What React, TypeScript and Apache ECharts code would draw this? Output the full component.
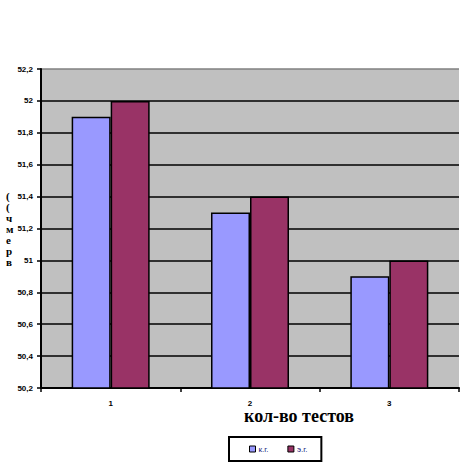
import React, { useEffect, useRef } from "react";
import * as echarts from "echarts";

const categories = ["1", "2", "3"];
const kgValues = [51.9, 51.3, 50.9];
const egValues = [52.0, 51.4, 51.0];
const seriesNames = ["к.г.", "э.г."];
const xTitle = "кол-во тестов";
const yTitleChars = ["(", "(", "ч", "м", "е", "р", "в"];

export default function App() {
  const ref = useRef<HTMLDivElement>(null);
  useEffect(() => {
    const chart = echarts.init(ref.current!, null, { renderer: "svg" });
    const gridColors: string[] = [];
    for (let i = 0; i < 10; i++) gridColors.push("#000");
    gridColors.push("#808080");
    chart.setOption({
      animation: false,
      backgroundColor: "#fff",
      grid: {
        left: 41,
        right: 10,
        top: 69,
        bottom: 81,
        show: true,
        backgroundColor: "#c0c0c0",
        borderColor: "#808080",
        borderWidth: 0,
      },
      legend: {
        left: 229,
        top: 437,
        orient: "horizontal",
        padding: [8, 14, 8, 20],
        itemGap: 19,
        itemWidth: 6,
        itemHeight: 6,
        borderColor: "#000",
        borderWidth: 2,
        icon: "rect",
        textStyle: { fontSize: 8, color: "#202080", fontFamily: "Liberation Sans", padding: [0, 0, 0, -2] },
        itemStyle: { borderColor: "#000", borderWidth: 1 },
        data: seriesNames,
      },
      xAxis: {
        type: "category",
        data: categories,
        axisLine: { lineStyle: { color: "#000", width: 2 } },
        axisTick: { show: true, length: 4, lineStyle: { color: "#000", width: 1.5 } },
        axisLabel: { fontSize: 8, fontWeight: "bold", color: "#000", margin: 11, fontFamily: "Liberation Sans" },
      },
      yAxis: {
        type: "value",
        min: 50.2,
        max: 52.2,
        interval: 0.2,
        axisLine: { show: true, lineStyle: { color: "#000", width: 2 } },
        axisTick: { show: true, length: 4, lineStyle: { color: "#000", width: 1.5 } },
        splitLine: { show: true, lineStyle: { color: gridColors, width: 1.5 } },
        axisLabel: {
          fontSize: 8,
          fontWeight: "bold",
          color: "#000",
          margin: 8,
          fontFamily: "Liberation Sans",
          formatter: (v: number) => {
            let s = v.toFixed(1);
            if (s.endsWith(".0")) s = s.slice(0, -2);
            return s.replace(".", ",");
          },
        },
      },
      series: [
        {
          name: seriesNames[0],
          type: "bar",
          data: kgValues,
          barWidth: 39,
          barGap: "0%",
          itemStyle: { color: "#9999ff", borderColor: "#000", borderWidth: 1.5 },
        },
        {
          name: seriesNames[1],
          type: "bar",
          data: egValues,
          barWidth: 39,
          barGap: "0%",
          itemStyle: { color: "#993366", borderColor: "#000", borderWidth: 1.5 },
        },
      ],
      graphic: [
        {
          type: "text",
          left: 244,
          top: 407,
          style: {
            text: xTitle,
            font: "bold 18px 'Liberation Serif'",
            fill: "#000",
          },
        },
        {
          type: "text",
          left: 6,
          top: 190,
          style: {
            text: yTitleChars.join("\n"),
            font: "bold 11px 'Liberation Serif'",
            lineHeight: 11,
            fill: "#000",
            align: "center",
          },
        },
      ],
    });
    return () => chart.dispose();
  }, []);
  return <div ref={ref} style={{ width: 469, height: 469, position: "absolute", left: 0, top: 0 }} />;
}
